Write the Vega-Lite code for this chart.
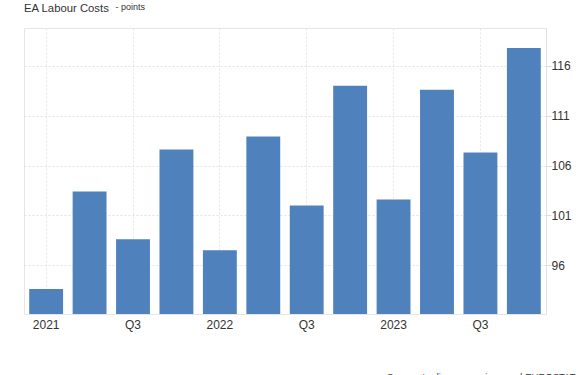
{
  "$schema": "https://vega.github.io/schema/vega-lite/v6.json",
  "autosize": {"type": "none"},
  "width": 522,
  "height": 286,
  "padding": {"left": 24, "top": 28, "right": 39, "bottom": 61},
  "background": "white",
  "title": {
    "text": "EA Labour Costs",
    "anchor": "start",
    "font": "Liberation Sans",
    "fontSize": 11.3,
    "fontWeight": "normal",
    "color": "#333333",
    "offset": -12
  },
  "config": {
    "view": {"stroke": "#e6e6e6", "strokeWidth": 1},
    "axis": {"labelFont": "Liberation Sans", "titleFont": "Liberation Sans"}
  },
  "data": {
    "values": [
      {"q": "2021Q1", "v": 93.6},
      {"q": "2021Q2", "v": 103.4},
      {"q": "2021Q3", "v": 98.6},
      {"q": "2021Q4", "v": 107.6},
      {"q": "2022Q1", "v": 97.5},
      {"q": "2022Q2", "v": 108.9},
      {"q": "2022Q3", "v": 102.0},
      {"q": "2022Q4", "v": 114.0},
      {"q": "2023Q1", "v": 102.6},
      {"q": "2023Q2", "v": 113.6},
      {"q": "2023Q3", "v": 107.3},
      {"q": "2023Q4", "v": 117.8}
    ]
  },
  "mark": {"type": "bar", "color": "#4f81bd", "clip": true},
  "encoding": {
    "x": {
      "field": "q",
      "type": "ordinal",
      "sort": null,
      "scale": {"paddingInner": 0.22, "paddingOuter": 0.12},
      "axis": {
        "title": "Source: tradingeconomics.com | EUROSTAT",
        "titleFontSize": 9.5,
        "titleFontWeight": "normal",
        "titleColor": "#333333",
        "titleAlign": "right",
        "titleAnchor": "end",
        "titleBaseline": "alphabetic",
        "titleX": 551,
        "titleY": 65,
        "labelAngle": 0,
        "labelFontSize": 12,
        "labelColor": "#333333",
        "labelPadding": 5,
        "labelBaseline": "top",
        "labelExpr": "slice(datum.value, 4) == 'Q1' ? slice(datum.value, 0, 4) : (slice(datum.value, 4) == 'Q3' ? 'Q3' : '')",
        "ticks": false,
        "tickSize": 0,
        "domain": false,
        "grid": true,
        "bandPosition": 0.5,
        "gridColor": {"condition": {"test": "slice(datum.value, 4) == 'Q1' || slice(datum.value, 4) == 'Q3'", "value": "#e6e6e6"}, "value": "transparent"},
        "gridDash": [2, 2],
        "gridWidth": 1
      }
    },
    "y": {
      "field": "v",
      "type": "quantitative",
      "scale": {"domain": [91.1, 119.8], "nice": false, "zero": false},
      "axis": {
        "orient": "right",
        "values": [96, 101, 106, 111, 116],
        "title": "- points",
        "titleAngle": 0,
        "titleAlign": "left",
        "titleBaseline": "alphabetic",
        "titleFontSize": 9,
        "titleFontWeight": "normal",
        "titleColor": "#333333",
        "titleX": -431,
        "titleY": -19,
        "labelFontSize": 12,
        "labelColor": "#333333",
        "labelPadding": 0,
        "tickSize": 5,
        "tickColor": "#dddddd",
        "domainColor": "#e0e0e0",
        "grid": true,
        "gridColor": "#e3e3e3",
        "gridDash": [2, 2]
      }
    }
  }
}
